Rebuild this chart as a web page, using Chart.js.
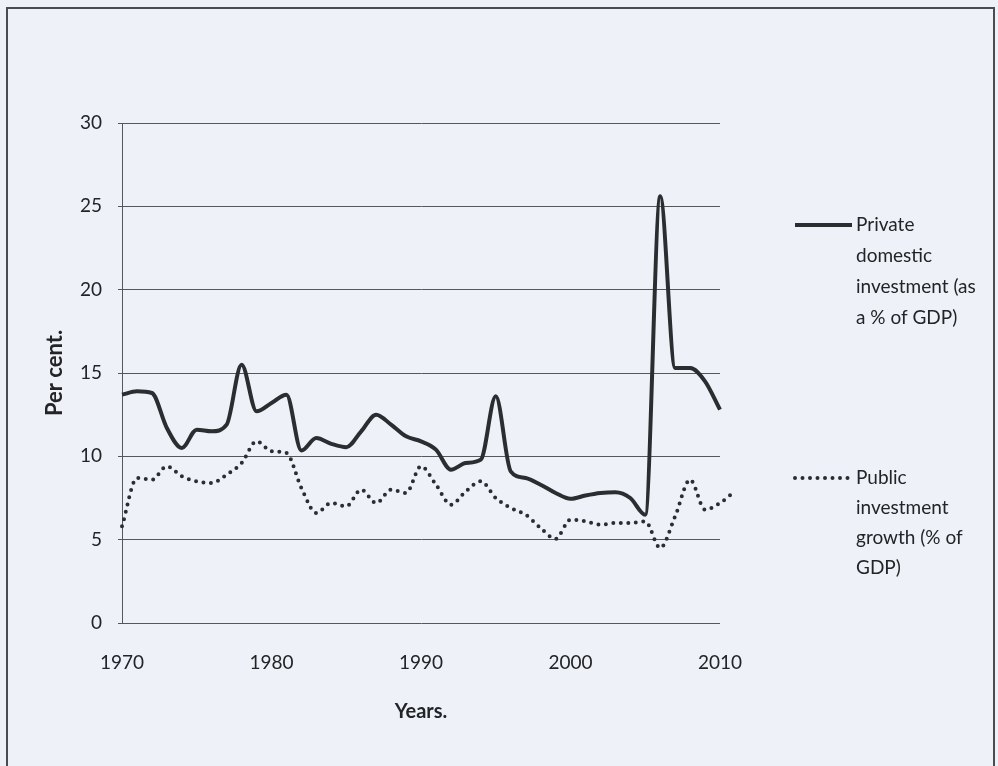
<!DOCTYPE html>
<html>
<head>
<meta charset="utf-8">
<script src="https://cdn.jsdelivr.net/npm/chart.js@4/dist/chart.umd.min.js"></script>
<style>
  body { margin: 0; background: #eef2f8; }
  canvas { display: block; }
</style>
</head>
<body>
<canvas id="investChart" width="998" height="766"></canvas>
<script>
// years on the x axis (public series runs one year past the last gridline)
const years = [1970, 1971, 1972, 1973, 1974, 1975, 1976, 1977, 1978, 1979,
               1980, 1981, 1982, 1983, 1984, 1985, 1986, 1987, 1988, 1989,
               1990, 1991, 1992, 1993, 1994, 1995, 1996, 1997, 1998, 1999,
               2000, 2001, 2002, 2003, 2004, 2005, 2006, 2007, 2008, 2009,
               2010, 2011];

const privateInvestment = [13.7, 13.9, 13.8, 11.7, 10.5, 11.6, 11.5, 11.9, 15.5, 12.7,
                           13.2, 13.7, 10.35, 11.1, 10.75, 10.55, 11.5, 12.5, 11.9, 11.2,
                           10.9, 10.4, 9.2, 9.6, 9.8, 13.6, 9.1, 8.7, 8.3, 7.8,
                           7.45, 7.65, 7.8, 7.85, 7.5, 6.5, 25.6, 15.3, 15.3, 14.5,
                           12.8];

const publicInvestment = [5.8, 8.7, 8.6, 9.4, 8.8, 8.5, 8.4, 8.9, 9.6, 10.9,
                          10.3, 10.2, 8.1, 6.6, 7.2, 7.0, 8.0, 7.2, 8.0, 7.8,
                          9.4, 8.3, 7.1, 7.9, 8.5, 7.5, 6.9, 6.5, 5.7, 5.05,
                          6.2, 6.1, 5.9, 6.0, 6.0, 6.1, 4.5, 6.4, 8.6, 6.8,
                          7.2, 7.9];

const yTicks = [0, 5, 10, 15, 20, 25, 30];
const xTicks = [1970, 1980, 1990, 2000, 2010];

const privateLabel = ["Private", "domestic", "investment (as", "a % of GDP)"];
const publicLabel = ["Public", "investment", "growth (% of", "GDP)"];

const ink = "#2b2e30";
const textInk = "#222426";
const paper = "#eef2f8";

Chart.defaults.font.family = "Lato, 'Open Sans', sans-serif";
Chart.defaults.font.size = 19;
Chart.defaults.color = textInk;

const frame = {
    id: "frame",
    beforeDraw(chart) {
        const ctx = chart.ctx;
        ctx.save();
        ctx.fillStyle = paper;
        ctx.fillRect(0, 0, chart.width, chart.height);
        ctx.strokeStyle = "#4a4d50";
        ctx.lineWidth = 2;
        ctx.strokeRect(7, 8, 987, 780);
        ctx.restore();
    }
};

const sideLegend = {
    id: "sideLegend",
    afterDraw(chart) {
        const ctx = chart.ctx;
        const entries = [
            { ds: chart.data.datasets[0], lines: privateLabel, y: 225, gap: 31 },
            { ds: chart.data.datasets[1], lines: publicLabel, y: 478, gap: 30 }
        ];
        ctx.save();
        entries.forEach(e => {
            ctx.strokeStyle = e.ds.borderColor;
            ctx.lineWidth = e.ds.borderWidth;
            ctx.lineCap = e.ds.borderCapStyle || "butt";
            ctx.setLineDash(e.ds.borderDash || []);
            ctx.beginPath();
            ctx.moveTo(795, e.y);
            ctx.lineTo(852, e.y);
            ctx.stroke();
            ctx.setLineDash([]);
            ctx.fillStyle = textInk;
            ctx.font = "19px Lato, 'Open Sans', sans-serif";
            ctx.textBaseline = "middle";
            e.lines.forEach((t, i) => {
                ctx.fillText(t, 856, e.y + i * e.gap);
            });
        });
        ctx.restore();
    }
};

new Chart(document.getElementById("investChart"), {
    type: "line",
    data: {
        datasets: [
            {
                label: privateLabel.join(" "),
                data: privateInvestment.map((v, i) => ({ x: years[i], y: v })),
                borderColor: ink,
                borderWidth: 4,
                pointRadius: 0,
                cubicInterpolationMode: "monotone",
                fill: false
            },
            {
                label: publicLabel.join(" "),
                data: publicInvestment.map((v, i) => ({ x: years[i], y: v })),
                borderColor: ink,
                borderWidth: 4,
                borderDash: [0, 7.5],
                borderCapStyle: "round",
                pointRadius: 0,
                cubicInterpolationMode: "monotone",
                fill: false,
                clip: false
            }
        ]
    },
    options: {
        responsive: false,
        animation: false,
        layout: { padding: { left: 0, top: 123, right: 278, bottom: 0 } },
        plugins: {
            legend: { display: false },
            tooltip: { enabled: false }
        },
        scales: {
            x: {
                type: "linear",
                bounds: "data",
                // axis range set here so the last public point may run past it
                afterDataLimits: s => {
                    s.min = xTicks[0];
                    s.max = xTicks[xTicks.length - 1];
                },
                afterBuildTicks: s => { s.ticks = xTicks.map(v => ({ value: v })); },
                afterFit: s => { s.height = 143; },
                grid: { display: false, drawTicks: false },
                border: { display: false },
                ticks: {
                    padding: 28,
                    maxRotation: 0,
                    callback: v => String(v)
                },
                title: {
                    display: true,
                    text: "Years.",
                    font: { weight: "bold", size: 20 },
                    padding: { top: 0, bottom: 42 }
                }
            },
            y: {
                min: yTicks[0],
                max: yTicks[yTicks.length - 1],
                afterBuildTicks: s => { s.ticks = yTicks.map(v => ({ value: v })); },
                afterFit: s => { s.width = 122; },
                grid: { color: "#55585b", lineWidth: 1, tickLength: 4 },
                border: { display: true, color: "#55585b", width: 1 },
                ticks: { padding: 16 },
                title: {
                    display: true,
                    text: "Per cent.",
                    font: { weight: "bold", size: 22 },
                    padding: { top: 42, bottom: 0 }
                }
            }
        }
    },
    plugins: [frame, sideLegend]
});
</script>
</body>
</html>
